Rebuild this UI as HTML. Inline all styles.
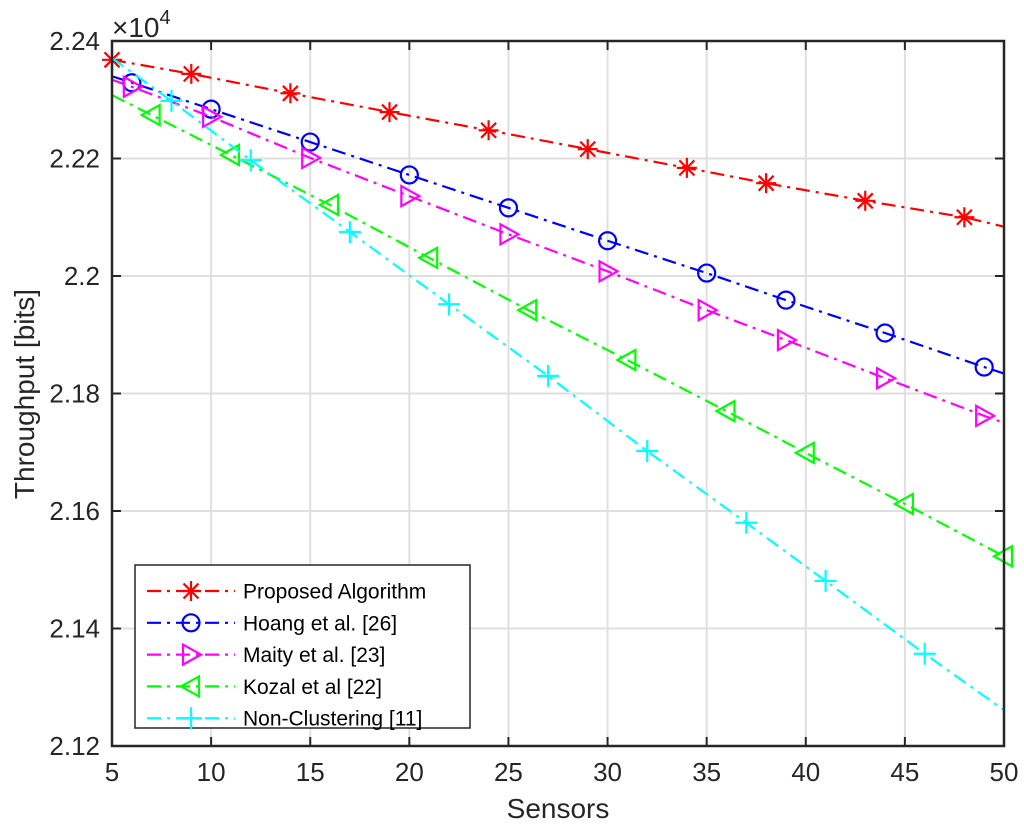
<!DOCTYPE html>
<html><head><meta charset="utf-8"><style>
body{margin:0;background:#fff}
svg{display:block;font-family:"Liberation Sans",Arial,sans-serif}
</style></head><body>
<svg id="chart" width="1024" height="831" viewBox="0 0 1024 831">
<rect width="1024" height="831" fill="#fff"/>
<g id="grid"></g>
<g id="series"></g>
<g id="axes"></g>
<g id="legend"></g>
</svg>
<script>
const xTicks=[5,10,15,20,25,30,35,40,45,50];
const yTicks=[2.12,2.14,2.16,2.18,2.2,2.22,2.24];
const yTickLabels=["2.12","2.14","2.16","2.18","2.2","2.22","2.24"];
const seriesNames=["Proposed Algorithm","Hoang et al. [26]","Maity et al. [23]","Kozal et al [22]","Non-Clustering [11]"];
const redX=[5,9,14,19,24,29,34,38,43,48,50];
const redY=[2.2368,2.2344,2.2311,2.2279,2.2248,2.2216,2.2184,2.2158,2.2128,2.2100,2.2084];
const blueX=[5,6,10,15,20,25,30,35,39,44,49,50];
const blueY=[2.2340,2.2329,2.2284,2.2228,2.2172,2.2116,2.2060,2.2005,2.1959,2.1903,2.1845,2.1834];
const magX=[5,6,10,15,20,25,30,35,39,44,49,50];
const magY=[2.2334,2.2322,2.2271,2.2201,2.2136,2.2071,2.2008,2.1942,2.1891,2.1826,2.1762,2.1750];
const greenX=[5,7,11,16,21,26,31,36,40,45,50];
const greenY=[2.2308,2.2274,2.2206,2.2121,2.2031,2.1942,2.1857,2.1770,2.1699,2.1612,2.1523];
const cyanX=[5,8,12,17,22,27,32,37,41,46,50];
const cyanY=[2.2371,2.2298,2.2197,2.2075,2.1952,2.1830,2.1702,2.1580,2.1481,2.1357,2.1261];

const L=112,R=1004,T=41,B=746;
const xs=v=>L+(v-5)/45*(R-L);
const ys=v=>B-(v-2.12)/0.12*(B-T);
const NS="http://www.w3.org/2000/svg";
function mk(tag,attrs,parent){const e=document.createElementNS(NS,tag);for(const k in attrs)e.setAttribute(k,attrs[k]);parent.appendChild(e);return e;}
const grid=document.getElementById('grid'),axes=document.getElementById('axes'),ser=document.getElementById('series'),leg=document.getElementById('legend');
xTicks.forEach(t=>{const x=xs(t);
 const g=mk('line',{x1:x,x2:x,y1:T,y2:B,stroke:'#dfdfdf','stroke-width':2},grid);
 
 mk('line',{x1:x,x2:x,y1:B,y2:B-9,stroke:'#262626','stroke-width':2},axes);
 mk('line',{x1:x,x2:x,y1:T,y2:T+9,stroke:'#262626','stroke-width':2},axes);
 const tx=mk('text',{x:x,y:B+35,'font-size':26,'text-anchor':'middle',fill:'#262626'},axes);tx.textContent=t;
 
});
yTicks.forEach((t,i)=>{const y=ys(t);
 const g=mk('line',{x1:L,x2:R,y1:y,y2:y,stroke:'#dfdfdf','stroke-width':2},grid);
 
 mk('line',{x1:L,x2:L+9,y1:y,y2:y,stroke:'#262626','stroke-width':2},axes);
 mk('line',{x1:R,x2:R-9,y1:y,y2:y,stroke:'#262626','stroke-width':2},axes);
 const tx=mk('text',{x:L-12,y:y+9,'font-size':26,'text-anchor':'end',fill:'#262626'},axes);tx.textContent=yTickLabels[i];
 
});
const fr=mk('rect',{x:L,y:T,width:R-L,height:B-T,fill:'none',stroke:'#262626','stroke-width':2.5},axes);

let t1=mk('text',{x:558,y:818,'font-size':28,'text-anchor':'middle',fill:'#262626'},axes);t1.textContent='Sensors';

let t2=mk('text',{x:0,y:0,'font-size':28,'text-anchor':'middle',fill:'#262626',transform:'translate(34,394) rotate(-90)'},axes);t2.textContent='Throughput [bits]';

let t3=mk('text',{x:112,y:37,'font-size':28,fill:'#262626'},axes);t3.innerHTML='×10<tspan dy="-13" font-size="20">4</tspan>';


function marker(type,x,y,c,p){const s=10;
 if(type==='star'){mk('path',{d:`M${x-s} ${y}H${x+s}M${x} ${y-s}V${y+s}M${x-7.5} ${y-7.5}L${x+7.5} ${y+7.5}M${x-7.5} ${y+7.5}L${x+7.5} ${y-7.5}`,stroke:c,'stroke-width':2.2,fill:'none'},p);}
 else if(type==='circle'){mk('circle',{cx:x,cy:y,r:8.5,stroke:c,'stroke-width':2.2,fill:'none'},p);}
 else if(type==='right'){mk('path',{d:`M${x-8} ${y-10}L${x+10} ${y}L${x-8} ${y+10}Z`,stroke:c,'stroke-width':2.2,fill:'none'},p);}
 else if(type==='left'){mk('path',{d:`M${x+8} ${y-10}L${x-10} ${y}L${x+8} ${y+10}Z`,stroke:c,'stroke-width':2.2,fill:'none'},p);}
 else {mk('path',{d:`M${x-11} ${y}H${x+11}M${x} ${y-11}V${y+11}`,stroke:c,'stroke-width':2.2,fill:'none'},p);}
}
const allS=[[redX,redY,'#ff0000','star','series-proposed',true],[blueX,blueY,'#0000ff','circle','series-hoang',false],[magX,magY,'#ff00ff','right','series-maity',false],[greenX,greenY,'#00ff00','left','series-kozal',false],[cyanX,cyanY,'#00ffff','plus','series-non-clustering',false]];
const dash='14 6 3 6';
allS.forEach(([X,Y,c,m,n,first])=>{
 const g=mk('g',{},ser);
 const pl=mk('polyline',{points:X.map((v,i)=>xs(v)+','+ys(Y[i])).join(' '),fill:'none',stroke:c,'stroke-width':2.2,'stroke-dasharray':dash},g);
 
 X.forEach((v,i)=>{if(i===0&&!first)return;if(v===50&&X[i-1]!==45)return;marker(m,xs(v),ys(Y[i]),c,g);});
});
const lb=mk('rect',{x:135,y:565,width:335,height:163,fill:'#fff',stroke:'#262626','stroke-width':1.5},leg);

allS.forEach(([X,Y,c,m,n],i)=>{const y=591+i*31.8;
 const g=mk('g',{},leg);
 mk('line',{x1:147,x2:235,y1:y,y2:y,stroke:c,'stroke-width':2.2,'stroke-dasharray':dash},g);
 marker(m,191,y,c,g);
 const t=mk('text',{x:243,y:y+7.5,'font-size':21,fill:'#000'},g);t.textContent=seriesNames[i];
});
</script>
</body></html>
